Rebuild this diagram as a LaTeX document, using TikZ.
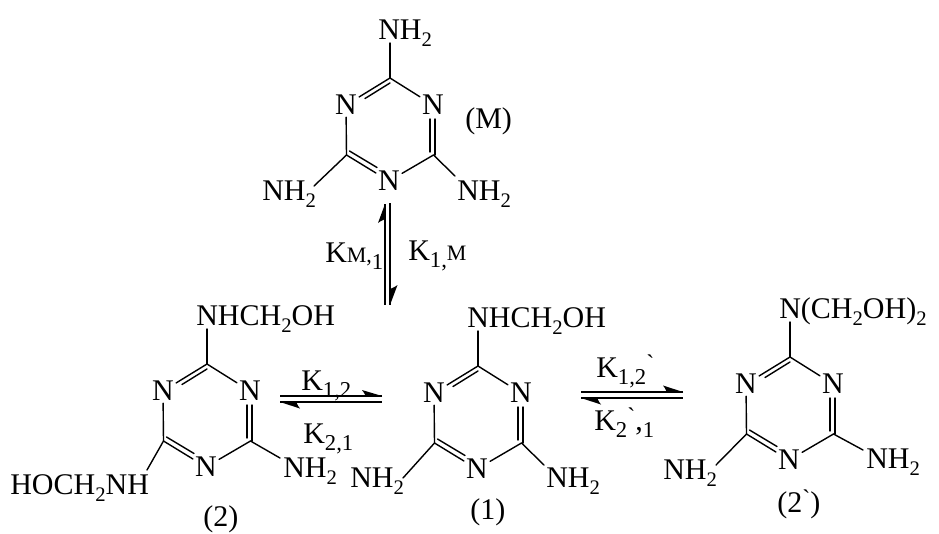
\documentclass[tikz,border=0pt]{standalone}
\usepackage{fontspec}
\setmainfont{Liberation Serif}
\newfontfamily\gravef{Liberation Serif}
\newcommand\sbs[1]{\raisebox{-0.24em}{\fontsize{15.5}{16}\selectfont #1}}
\newcommand\kbs[1]{\raisebox{-0.24em}{\fontsize{17}{18}\selectfont #1}}
\newcommand\sml[1]{{\fontsize{16.5}{18}\selectfont #1}}
\newcommand\grv[1][0.17em]{\raisebox{#1}{\fontsize{18}{18}\gravef\symbol{96}}}
\newcommand\triazine[3]{%
  \begin{scope}[shift={(#2,#3)}]
    \coordinate (#1T) at (0,0);
    \coordinate (#1CL) at (-43.5,77);
    \coordinate (#1CR) at (43.5,77);
    \node[atom] (#1NL) at (-44,27) {N};
    \node[atom] (#1NR) at (43,27) {N};
    \node[atom] (#1NB) at (-1,103) {N};
    \coordinate (#1d1) at (0,5);
    \coordinate (#1d2) at (-25,20.5);
    \coordinate (#1d3) at (45,77);
    \coordinate (#1d4) at (45,41);
    \coordinate (#1d5) at (40,74);
    \coordinate (#1d6) at (40,41);
    \coordinate (#1d7) at (-40.5,73);
    \coordinate (#1d8) at (-13,89.5);
    \draw[bond] (#1T) -- (#1NR);
    \draw[bond] (#1NL) -- (#1CL);
    \draw[bond] (#1CR) -- (#1NB);
    % double bonds
    \draw[bond] (#1T) -- (#1NL);
    \draw[bond] (#1d1) -- (#1d2);
    \draw[bond] (#1d3) -- (#1d4);
    \draw[bond] (#1d5) -- (#1d6);
    \draw[bond] (#1CL) -- (#1NB);
    \draw[bond] (#1d7) -- (#1d8);
  \end{scope}}
\tikzset{
  x=0.75pt,y=-0.75pt,
  bond/.style={line width=1.05pt,line cap=round,black},
  rxn/.style={line width=1.2pt,black},
  atom/.style={inner sep=1.5pt,font=\fontsize{22.5}{24}\selectfont},
  lbl/.style={inner sep=0pt,anchor=base west,font=\fontsize{22.5}{24}\selectfont},
  head/.style={fill=black,draw=none},
}
\begin{document}
\begin{tikzpicture}
\useasboundingbox (0,0) rectangle (939,533);
\fill[white] (0,0) rectangle (939,533);
% Molecule M
\triazine{M}{390}{78}
\node[lbl] (Mtop) at (378,39) {NH\sbs{2}};
\node[lbl] (Mleft) at (262,200) {NH\sbs{2}};
\node[lbl] (Mright) at (457,200) {NH\sbs{2}};
\node[lbl] (Mname) at (465,128) {(M)};
\coordinate (Mb1) at (390,43);
\coordinate (Mb2) at (314,186);
\coordinate (Mb3) at (455,176);
\draw[bond] (MT) -- (Mb1);
\draw[bond] (MCL) -- (Mb2);
\draw[bond] (MCR) -- (Mb3);
% Molecule 2
\triazine{B}{207}{364}
\node[lbl] (Btop) at (196,325) {NHCH\sbs{2}OH};
\node[lbl] (Bleft) at (10,494) {HOCH\sbs{2}NH};
\node[lbl] (Bright) at (283,477) {NH\sbs{2}};
\node[lbl] (Bname) at (203,526) {(2)};
\coordinate (Bb1) at (207,329);
\coordinate (Bb2) at (147,470);
\coordinate (Bb3) at (280,458);
\draw[bond] (BT) -- (Bb1);
\draw[bond] (BCL) -- (Bb2);
\draw[bond] (BCR) -- (Bb3);
% Molecule 1
\triazine{A}{478}{366}
\node[lbl] (Atop) at (467,327) {NHCH\sbs{2}OH};
\node[lbl] (Aleft) at (350,487) {NH\sbs{2}};
\node[lbl] (Aright) at (546,487) {NH\sbs{2}};
\node[lbl] (Aname) at (470,519) {(1)};
\coordinate (Ab1) at (478,331);
\coordinate (Ab2) at (403,478);
\coordinate (Ab3) at (544,465);
\draw[bond] (AT) -- (Ab1);
\draw[bond] (ACL) -- (Ab2);
\draw[bond] (ACR) -- (Ab3);
% Molecule 2'
\triazine{C}{790}{357}
\node[lbl] (Ctop) at (779,318) {N(CH\sbs{2}OH)\sbs{2}};
\node[lbl] (Cleft) at (663,479) {NH\sbs{2}};
\node[lbl] (Cright) at (866,468) {NH\sbs{2}};
\node[lbl] (Cname) at (777,512) {(2\grv)};
\coordinate (Cb1) at (790,322);
\coordinate (Cb2) at (716,465);
\coordinate (Cb3) at (863,450);
\draw[bond] (CT) -- (Cb1);
\draw[bond] (CCL) -- (Cb2);
\draw[bond] (CCR) -- (Cb3);
% Rate labels
\node[lbl] (kM1) at (325,262) {K\sml{M,}\kbs{1}};
\node[lbl] (k1M) at (408,260) {K\kbs{1,}\sml{M}};
\node[lbl] (k12) at (301,390) {K\kbs{1,2}};
\node[lbl] (k21) at (303,443) {K\kbs{2,1}};
\node[lbl] (k12p) at (596,377) {K\kbs{1,2}\grv};
\node[lbl] (k21p) at (594,430) {K\kbs{2}\grv,\kbs{1}};
% Vertical equilibrium
\coordinate (v1a) at (385,204);
\coordinate (v1b) at (385,305);
\coordinate (v2a) at (390,203);
\coordinate (v2b) at (390,305);
\draw[rxn] (v1a) -- (v1b);
\draw[rxn] (v2a) -- (v2b);
\fill[head] (v1a) -- ++(-7,19) .. controls +(2,-2) and +(4,-3) .. ++(7,-3) -- cycle;
\fill[head] (v2b) -- ++(7.5,-20) .. controls +(-2,2) and +(-4,3) .. ++(-7.5,3) -- cycle;
% Horizontal equilibrium 2 <-> 1
\coordinate (h1a) at (280,396);
\coordinate (h1b) at (382,396);
\coordinate (h2a) at (280,402);
\coordinate (h2b) at (382,402);
\draw[rxn] (h1a) -- (h1b);
\draw[rxn] (h2a) -- (h2b);
\fill[head] (h1b) -- ++(-20,-6) .. controls +(2,2) and +(3,4) .. ++(3,6) -- cycle;
\fill[head] (h2a) -- ++(20,6.5) .. controls +(-2,-2) and +(-3,-4) .. ++(-3,-6.5) -- cycle;
% Horizontal equilibrium 1 <-> 2'
\coordinate (j1a) at (581,392);
\coordinate (j1b) at (683,392);
\coordinate (j2a) at (581,398);
\coordinate (j2b) at (683,398);
\draw[rxn] (j1a) -- (j1b);
\draw[rxn] (j2a) -- (j2b);
\fill[head] (j1b) -- ++(-20,-6.5) .. controls +(2,2) and +(3,4) .. ++(3,6.5) -- cycle;
\fill[head] (j2a) -- ++(20,6.5) .. controls +(-2,-2) and +(-3,-4) .. ++(-3,-6.5) -- cycle;
\end{tikzpicture}
\end{document}
